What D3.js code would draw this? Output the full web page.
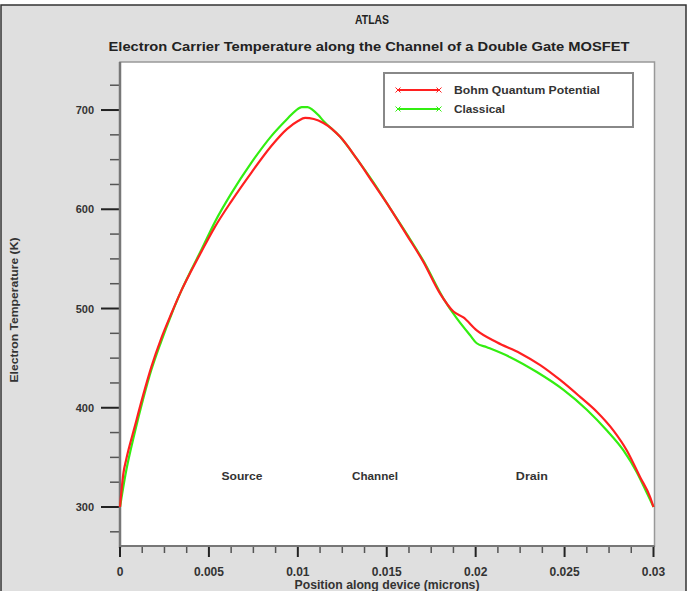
<!DOCTYPE html>
<html><head><meta charset="utf-8">
<script src="https://cdn.jsdelivr.net/npm/d3@7"></script>
<style>
html,body{margin:0;padding:0;background:#fff;}
svg{display:block;font-family:"Liberation Sans",Arial,sans-serif;}
</style></head>
<body><svg id="c" width="692" height="591"></svg>
<script>
// ---- data ----
const bohmX = [0,0.0002,0.00035,0.00083,0.00129,0.00176,0.00232,0.00289,0.00345,0.00401,0.00457,0.00533,0.00626,0.00739,0.00852,0.0094,0.01001,0.01041,0.0109,0.01144,0.01238,0.01331,0.01425,0.01519,0.01613,0.01706,0.018,0.01875,0.01931,0.02006,0.02119,0.0225,0.02363,0.02475,0.02587,0.02681,0.02775,0.0285,0.02925,0.02981,0.03];
const bohmT = [300,335,348,381,412,441,470,495,518,538,557,582,608,637,664,681,689,692,691,687,673,651,626,601,574,547,515,497,491,478,466,455,443,428,411,396,377,357,330,310,300];
const classX = [0,0.0003,0.00083,0.00129,0.00176,0.00232,0.00289,0.00345,0.00401,0.00457,0.00533,0.00626,0.00739,0.00852,0.0094,0.00985,0.01022,0.01055,0.01085,0.01115,0.01144,0.01238,0.01331,0.01425,0.01519,0.01613,0.01706,0.01819,0.01894,0.01969,0.02006,0.02063,0.02194,0.02344,0.02494,0.02625,0.02738,0.02831,0.02906,0.02963,0.03];
const classT = [300,332,375,408,438,467,494,518,539,559,587,616,647,674,691,699,703,703,700,695,689,673,651,627,601,575,548,510,490,473,465,461,451,436,418,398,377,357,335,314,300];
const seriesNames = ["Bohm Quantum Potential","Classical"];
const seriesColors = ["#ff2020","#33ee11"];
const xTickVals = [0,0.005,0.01,0.015,0.02,0.025,0.03];
const xTickLabels = ["0","0.005","0.01","0.015","0.02","0.025","0.03"];
const yTickVals = [300,400,500,600,700];
const regionNames = ["Source","Channel","Drain"];
const regionX = [0.00686,0.01434,0.02316];
const regionT = 331;
const titleText = "ATLAS";
const subtitleText = "Electron Carrier Temperature  along the Channel of a Double Gate MOSFET";
const xLabel = "Position along device (microns)";
const yLabel = "Electron Temperature (K)";

// ---- layout ----
const svg = d3.select("#c");
const L = 120, R = 653.5, T = 62, B = 546;
const x = d3.scaleLinear().domain([0,0.03]).range([L,R]);
const y = d3.scaleLinear().domain([260.7,748.4]).range([B,T]);

// outer frame
svg.append("rect").attr("x",1).attr("y",5).attr("width",685).attr("height",590)
  .attr("fill","#dfdfdf").attr("stroke","#333").attr("stroke-width",1.5);
// plot area
svg.append("rect").attr("x",L).attr("y",T).attr("width",R-L+1).attr("height",B-T)
  .attr("fill","#fff").attr("stroke","#999").attr("stroke-width",1.5);

// titles
svg.append("text").attr("x",372).attr("y",24).attr("text-anchor","middle")
  .attr("font-size",13).attr("font-weight","bold").attr("fill","#222")
  .attr("textLength",34).attr("lengthAdjust","spacingAndGlyphs").text(titleText);
svg.append("text").attr("x",369).attr("y",51).attr("text-anchor","middle")
  .attr("font-size",13.5).attr("font-weight","bold").attr("fill","#222")
  .attr("textLength",521).attr("lengthAdjust","spacingAndGlyphs").text(subtitleText);

// y axis
const yMinor = d3.range(275,750,25).filter(v=>v%100!==0);
const gy = svg.append("g");
gy.selectAll("line.mn").data(yMinor).join("line")
  .attr("x1",L-10).attr("x2",L).attr("y1",d=>y(d)).attr("y2",d=>y(d))
  .attr("stroke","#555").attr("stroke-width",1.5);
gy.selectAll("line.mj").data(yTickVals).join("line")
  .attr("x1",L-19).attr("x2",L).attr("y1",d=>y(d)).attr("y2",d=>y(d))
  .attr("stroke","#222").attr("stroke-width",2);
gy.selectAll("text").data(yTickVals).join("text")
  .attr("x",94).attr("y",d=>y(d)+4).attr("text-anchor","end")
  .attr("font-size",11).attr("font-weight","bold").attr("fill","#333").text(d=>d);
svg.append("line").attr("x1",L).attr("x2",L).attr("y1",T).attr("y2",B+2)
  .attr("stroke","#777").attr("stroke-width",2.5);

// x axis
const xMinor = d3.range(0,0.03001,0.00125).filter((v,i)=>i%4!==0);
const gx = svg.append("g");
gx.selectAll("line.mn").data(xMinor).join("line")
  .attr("x1",d=>x(d)).attr("x2",d=>x(d)).attr("y1",B).attr("y2",B+7)
  .attr("stroke","#555").attr("stroke-width",1.5);
gx.selectAll("line.mj").data(xTickVals).join("line")
  .attr("x1",d=>x(d)).attr("x2",d=>x(d)).attr("y1",B).attr("y2",B+11)
  .attr("stroke","#222").attr("stroke-width",2);
gx.selectAll("text").data(xTickVals).join("text")
  .attr("x",d=>x(d)).attr("y",576).attr("text-anchor","middle")
  .attr("font-size",12).attr("font-weight","bold").attr("fill","#333").text((d,i)=>xTickLabels[i]);
svg.append("line").attr("x1",L-1).attr("x2",R+1).attr("y1",B).attr("y2",B)
  .attr("stroke","#777").attr("stroke-width",2);

// axis labels
svg.append("text").attr("x",387).attr("y",589).attr("text-anchor","middle")
  .attr("font-size",12).attr("font-weight","bold").attr("fill","#333")
  .attr("textLength",185).attr("lengthAdjust","spacingAndGlyphs").text(xLabel);
svg.append("text").attr("transform","translate(18,310) rotate(-90)").attr("text-anchor","middle")
  .attr("font-size",11).attr("font-weight","bold").attr("fill","#333")
  .attr("textLength",145).attr("lengthAdjust","spacingAndGlyphs").text(yLabel);

// curves
const line = d3.line().x(d=>x(d[0])).y(d=>y(d[1])).curve(d3.curveMonotoneX);
const series = [bohmX.map((v,i)=>[v,bohmT[i]]), classX.map((v,i)=>[v,classT[i]])];
[1,0].forEach(i=>{
  svg.append("path").datum(series[i]).attr("d",line).attr("fill","none")
    .attr("stroke",seriesColors[i]).attr("stroke-width",2.2);
});

// region labels
const regW = [41,46,32];
svg.selectAll("text.reg").data(regionNames).join("text").attr("class","reg")
  .attr("x",(d,i)=>x(regionX[i])).attr("y",y(regionT)+4).attr("text-anchor","middle")
  .attr("font-size",11).attr("font-weight","bold").attr("fill","#333")
  .attr("textLength",(d,i)=>regW[i]).attr("lengthAdjust","spacingAndGlyphs").text(d=>d);

// legend
const legW = [146,51];
const lg = svg.append("g");
lg.append("rect").attr("x",384).attr("y",73).attr("width",249).attr("height",54)
  .attr("fill","#fff").attr("stroke","#888").attr("stroke-width",2);
seriesNames.forEach((n,i)=>{
  const ly = 90 + i*19;
  lg.append("line").attr("x1",398).attr("x2",439).attr("y1",ly).attr("y2",ly)
    .attr("stroke",seriesColors[i]).attr("stroke-width",2);
  [398,439].forEach(px=>{
    lg.append("path").attr("d",`M${px-2.5},${ly-2.5}L${px+2.5},${ly+2.5}M${px-2.5},${ly+2.5}L${px+2.5},${ly-2.5}`)
      .attr("stroke",seriesColors[i]).attr("stroke-width",1);
  });
  lg.append("text").attr("x",454).attr("y",ly+4).attr("font-size",11).attr("font-weight","bold")
    .attr("fill","#333").attr("textLength",legW[i]).attr("lengthAdjust","spacingAndGlyphs").text(n);
});
</script></body></html>
